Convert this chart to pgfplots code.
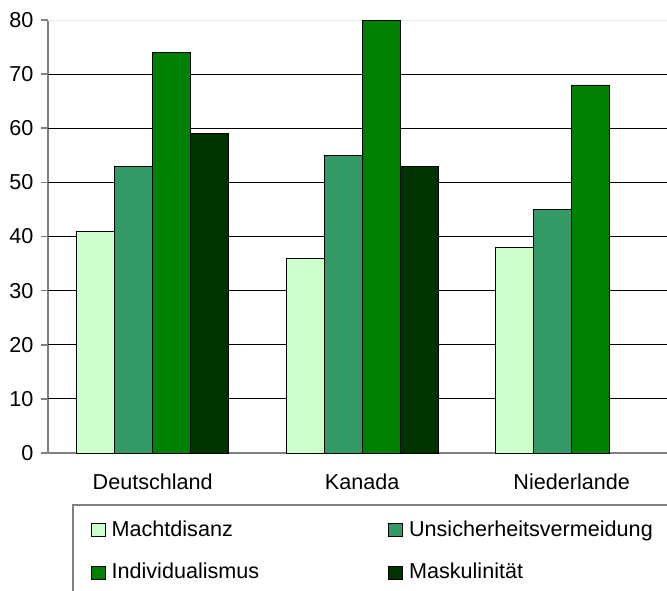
\documentclass[border=0pt]{standalone}
\usepackage{pgfplots}
\pgfplotsset{compat=1.18}
\usepackage{fontspec}
\setmainfont{Liberation Sans}
\definecolor{macht}{HTML}{CCFFCC}
\definecolor{unsich}{HTML}{339966}
\definecolor{indiv}{HTML}{008000}
\definecolor{mask}{HTML}{003300}
\definecolor{axgray}{HTML}{808080}
\begin{document}
\fontsize{10.8}{13}\selectfont
\begin{tikzpicture}
  \path[use as bounding box, clip] (0,0) rectangle (333.5pt,295pt);
  \begin{axis}[
      at={(24pt,68.5pt)}, anchor=south west,
      scale only axis, width=309.5pt, height=216.5pt,
      ybar=0pt, bar width=19pt,
      xmin=-0.5, xmax=2.455, ymin=0, ymax=80,
      xtick={0,1,2}, xticklabels={Deutschland,Kanada,Niederlande},
      x tick style={draw=none},
      extra x ticks={-0.5,0.5,1.5}, extra x tick labels={},
      extra x tick style={tick style={draw=axgray, thick}, major tick length=5pt},
      ytick={0,10,...,80},
      y tick style={draw=axgray, thick},
      tick align=outside, major tick length=3.5pt,
      xticklabel style={yshift=-3pt},
      axis x line*=bottom, axis y line*=left,
      axis line style={draw=axgray, thick, -},
      extra y ticks={10,20,...,70}, extra y tick labels={},
      extra y tick style={grid=major, major grid style={black, line width=0.6pt}, major tick length=0pt},
      /pgf/number format/assume math mode=true,
      tick label style={font=\fontsize{10.8}{13}\selectfont},
      clip=false,
      legend columns=2,
      legend cell align=left,
      legend style={at={(0.0388,-0.1178)}, anchor=north west, draw=axgray, thick,
        inner xsep=9pt, inner ysep=5.8pt, row sep=8pt,
        font=\fontsize{10.8}{13}\selectfont,
        /tikz/every odd column/.append style={column sep=1pt},
        /tikz/every even column/.append style={column sep=62.5pt}},
      legend image code/.code={\draw[#1,draw=black,thin] (0pt,-3.25pt) rectangle (7pt,3.25pt);},
    ]
    \draw[draw=black!8] (axis cs:-0.5,80) -- (axis cs:2.455,80);
    \addplot[fill=macht, draw=black, thin] coordinates {(0,41) (1,36) (2,38)};
    \addlegendentry{Machtdisanz}
    \addplot[fill=unsich, draw=black, thin] coordinates {(0,53) (1,55) (2,45)};
    \addlegendentry{Unsicherheitsvermeidung}
    \addplot[fill=indiv, draw=black, thin] coordinates {(0,74) (1,80) (2,68)};
    \addlegendentry{Individualismus}
    \addplot[fill=mask, draw=black, thin] coordinates {(0,59) (1,53)};
    \addlegendentry{Maskulinität}
  \end{axis}
\end{tikzpicture}
\end{document}
